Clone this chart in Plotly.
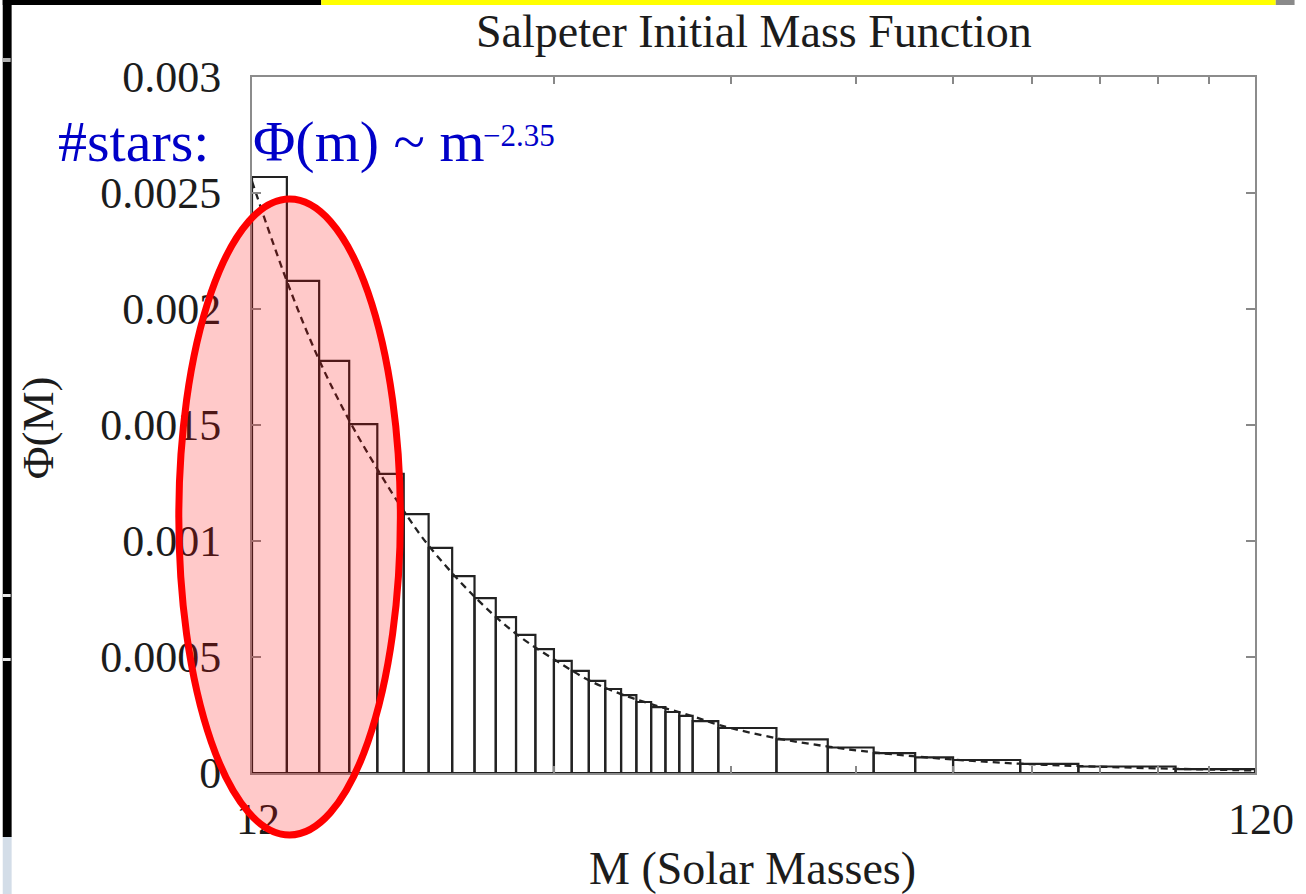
import plotly.graph_objects as go

# ---------------- data ----------------
bin_edges = [12, 13, 14, 15, 16, 17, 18, 19, 20, 21, 22, 23, 24, 25, 26, 27, 28, 29, 30,
             31, 32, 33, 35, 40, 45, 50, 55, 60, 70, 80, 100, 120]
bar_heights = [0.002569, 0.002121, 0.001776, 0.001504, 0.001289, 0.001116, 0.000970,
               0.000849, 0.000754, 0.000672, 0.000595, 0.000534, 0.000483, 0.000440,
               0.000397, 0.000362, 0.000336, 0.000306, 0.000284, 0.000263, 0.000246,
               0.000224, 0.000194, 0.000145, 0.000110, 0.000086, 0.000067, 0.000056,
               0.000039, 0.000028, 0.000017]
curve_mass = [12, 13, 14, 15, 16, 17, 18, 20, 22, 24, 26, 28, 30, 33, 35, 40, 45, 50,
              60, 70, 80, 100, 120]
curve_phi = [0.00255, 0.00212, 0.00178, 0.00152, 0.00131, 0.00113, 0.00098, 0.00076,
             0.00060, 0.00049, 0.00040, 0.00034, 0.000297, 0.000245, 0.000208, 0.000150,
             0.000114, 0.000089, 0.000058, 0.000040, 0.000030, 0.000018, 0.000011]
y_tick_vals = [0, 0.0005, 0.001, 0.0015, 0.002, 0.0025, 0.003]
y_tick_text = ["0", "0.0005", "0.001", "0.0015", "0.002", "0.0025", "0.003"]
x_tick_vals = [12, 120]
x_tick_text = ["12", "120"]
x_minor_vals = [24, 36, 48, 60, 72, 84, 96, 108]

title_text = "Salpeter Initial Mass Function"
x_title = "M (Solar Masses)"
y_title = "Φ(M)"
note_main = "#stars:\u00a0\u00a0 Φ(m) ~ m"
note_exp = "−2.35"

# ---------------- layout geometry ----------------
W, H = 1306, 894
L, R, T, B = 252, 1266, 77, 773


def px(x):
    return (x - L) / (R - L)


def py(y):
    return (B - y) / (B - T)


SERIF = "Liberation Serif, Times New Roman, serif"
TXT = "#1c1c1c"

# histogram outline as closed rectangles
bx, by = [], []
for i, h in enumerate(bar_heights):
    l, r = bin_edges[i], bin_edges[i + 1]
    bx += [l, l, r, r, l, None]
    by += [0, h, h, 0, 0, None]

fig = go.Figure()
fig.add_trace(go.Scatter(x=bx, y=by, mode="lines", fill="toself", fillcolor="white",
                         line=dict(color="#222222", width=2.2), hoverinfo="skip",
                         showlegend=False))
fig.add_trace(go.Scatter(x=curve_mass, y=curve_phi, mode="lines",
                         line=dict(color="#222222", width=2.3, dash="7px,5px", shape="spline"),
                         showlegend=False))

fig.update_layout(
    width=W, height=H,
    margin=dict(l=L, r=W - R, t=T, b=H - B),
    paper_bgcolor="white", plot_bgcolor="white",
    showlegend=False,
    font=dict(family=SERIF, color=TXT),
)
fig.update_xaxes(type="log", range=[1.0791812, 2.0791812],
                 tickvals=x_tick_vals, ticktext=x_tick_text,
                 ticks="inside", ticklen=7, tickwidth=1.5, tickcolor="#888888",
                 minor=dict(tickvals=x_minor_vals, ticks="inside", ticklen=7,
                            tickwidth=1.5, tickcolor="#888888", showgrid=False),
                 showline=True, linecolor="#8c8c8c", linewidth=2, mirror="ticks",
                 showgrid=False, zeroline=False,
                 tickfont=dict(family=SERIF, size=44, color=TXT),
                 ticklabelstandoff=6, ticklabelshift=6)
fig.update_yaxes(range=[0, 0.003], tickvals=y_tick_vals, ticktext=y_tick_text,
                 ticks="inside", ticklen=9, tickwidth=1.5, tickcolor="#888888",
                 showline=True, linecolor="#8c8c8c", linewidth=2, mirror="ticks",
                 showgrid=False, zeroline=False,
                 tickfont=dict(family=SERIF, size=44, color=TXT), ticklabelstandoff=20)

ann = [
    dict(text=title_text, x=px(759), y=py(31), xref="paper", yref="paper",
         xanchor="center", yanchor="middle", showarrow=False,
         font=dict(family=SERIF, size=46, color=TXT)),
    dict(text=x_title, x=px(758), y=py(868), xref="paper", yref="paper",
         xanchor="center", yanchor="middle", showarrow=False,
         font=dict(family=SERIF, size=46, color=TXT)),
    dict(text=y_title, x=px(36), y=py(428), xref="paper", yref="paper", textangle=-90,
         xanchor="center", yanchor="middle", showarrow=False,
         font=dict(family=SERIF, size=45, color=TXT)),
    dict(text=note_main, x=px(54), y=py(141), xref="paper", yref="paper",
         xanchor="left", yanchor="middle", showarrow=False,
         font=dict(family=SERIF, size=58, color="#0000c8")),
    dict(text=note_exp, x=px(484), y=py(135), xref="paper", yref="paper",
         xanchor="left", yanchor="middle", showarrow=False,
         font=dict(family=SERIF, size=31, color="#0000c8")),
]
fig.update_layout(annotations=ann)


def rect(x0, y0, x1, y1, color, layer="above"):
    return dict(type="rect", xref="paper", yref="paper", x0=px(x0), x1=px(x1),
                y0=py(y1), y1=py(y0), fillcolor=color, line=dict(width=0), layer=layer)


shapes = [
    # slide remnants around the chart
    rect(0, 0, 9, 837, "black"),
    rect(0, 0, 322, 5, "black"),
    rect(322, 0, 1287, 5, "#ffff00"),
    rect(1287, 0, 1306, 5, "#8a8a8a"),
    rect(0, 837, 9, 894, "#d3dde8"),
    rect(0, 58, 8, 62, "#b0b0b0"),
    rect(0, 594, 8, 597, "#e8e8e8"),
    rect(0, 658, 8, 661, "#e8e8e8"),
    # red highlight ellipse
    dict(type="circle", xref="paper", yref="paper", x0=px(178), x1=px(402),
         y0=py(835), y1=py(199), fillcolor="rgba(255,0,0,0.21)",
         line=dict(color="#ff0000", width=7), layer="above"),
]
fig.update_layout(shapes=shapes)

fig.write_html("out.html")
